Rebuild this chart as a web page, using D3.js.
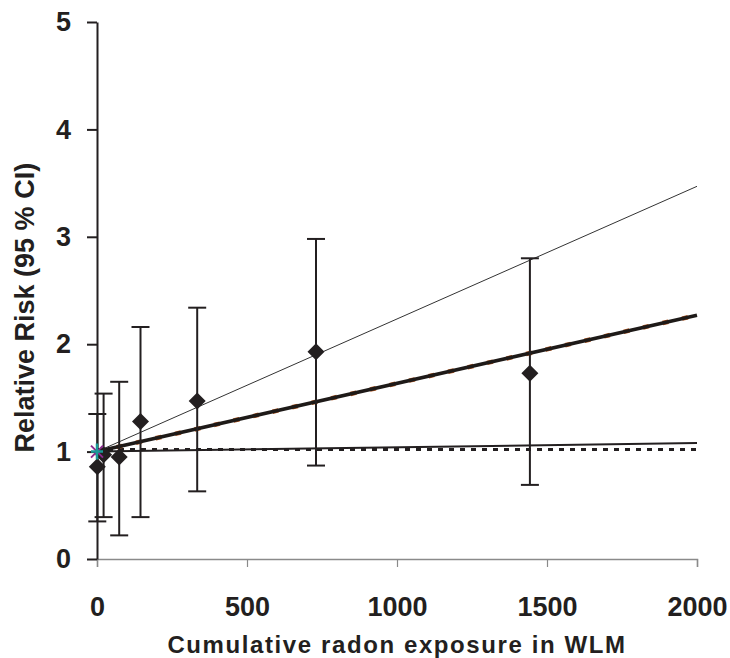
<!DOCTYPE html>
<html>
<head>
<meta charset="utf-8">
<script src="https://cdn.jsdelivr.net/npm/d3@7"></script>
<style>
  body { margin: 0; background: #fff; }
  text { font-family: "Liberation Sans", Arial, sans-serif; font-weight: bold; fill: #231f20; }
</style>
</head>
<body>
<div id="chart-container"></div>
<script>
// grouped exposure categories (WLM) with relative risk and 95% CI
var exposure = [1, 22, 74, 145, 334, 730, 1443]
var rr       = [0.86, 0.97, 0.95, 1.28, 1.47, 1.93, 1.73]
var lower    = [0.35, 0.39, 0.22, 0.39, 0.63, 0.87, 0.69]
var upper    = [1.35, 1.54, 1.65, 2.16, 2.34, 2.98, 2.80]

// reference category
var refExposure = [0]
var refRR = [1]

// fitted lines: RR at 0 and at 2000 WLM
var lineX = [0, 2000]
var thinFit = [1, 3.47]
var thickFit = [1, 2.27]
var flatFit = [1, 1.08]
var baseline = [1.02, 1.02]

var xTicks = [0, 500, 1000, 1500, 2000]
var yTicks = [0, 1, 2, 3, 4, 5]

var margin = {top: 22, right: 33, bottom: 99, left: 97}
var width = 730 - margin.left - margin.right
var height = 658 - margin.top - margin.bottom

var xScale = d3.scaleLinear().domain([0, 2000]).range([0, width])
var yScale = d3.scaleLinear().domain([0, 5]).range([height, 0])

var svg = d3.select('#chart-container')
  .append('svg')
  .attr('width', 730)
  .attr('height', 658)
  .append('g')
  .attr('transform', 'translate(' + margin.left + ', ' + margin.top + ')')

/* x axis (grey) */
var xAxis = svg.append('g')
  .attr('transform', 'translate(0, ' + height + ')')
  .call(d3.axisBottom(xScale).tickValues(xTicks).tickSize(8).tickPadding(30).tickFormat(d3.format('d')))
xAxis.select('.domain').attr('stroke', '#8a8a8a').attr('stroke-width', 1.5)
xAxis.selectAll('.tick line').attr('stroke', '#8a8a8a').attr('stroke-width', 1.2)
xAxis.selectAll('text').style('font-size', '27px').attr('fill', '#231f20')

/* y axis */
var yAxis = svg.append('g')
  .call(d3.axisLeft(yScale).tickValues(yTicks).tickSize(10).tickSizeOuter(0).tickPadding(16).tickFormat(d3.format('d')))
yAxis.select('.domain').attr('stroke', '#231f20').attr('stroke-width', 2)
yAxis.selectAll('.tick line').attr('stroke', '#231f20').attr('stroke-width', 2)
yAxis.selectAll('text').style('font-size', '27px').attr('fill', '#231f20')

/* axis titles */
svg.append('text')
  .attr('x', width / 2)
  .attr('y', height + 94)
  .attr('text-anchor', 'middle')
  .style('font-size', '24px')
  .style('letter-spacing', '1.6px')
  .text('Cumulative radon exposure in WLM')

svg.append('text')
  .attr('transform', 'translate(-63, ' + (yScale(2.34)) + ') rotate(-90)')
  .attr('text-anchor', 'middle')
  .style('font-size', '27px')
  .text('Relative Risk (95 % CI)')

var line = d3.line()
  .x(function(d) { return xScale(d[0]) })
  .y(function(d) { return yScale(d[1]) })

function pairs(ys) { return lineX.map(function(x, i) { return [x, ys[i]] }) }

/* dotted reference line */
svg.append('path')
  .attr('d', line(pairs(baseline)))
  .attr('fill', 'none')
  .attr('stroke', '#231f20')
  .attr('stroke-width', 3)
  .attr('stroke-dasharray', '5,6')

/* fitted lines */
svg.append('path')
  .attr('d', line(pairs(flatFit)))
  .attr('fill', 'none')
  .attr('stroke', '#231f20')
  .attr('stroke-width', 2)

svg.append('path')
  .attr('d', line(pairs(thinFit)))
  .attr('fill', 'none')
  .attr('stroke', '#333')
  .attr('stroke-width', 1)

svg.append('path')
  .attr('d', line(pairs(thickFit)))
  .attr('fill', 'none')
  .attr('stroke', '#b5561e')
  .attr('stroke-width', 4.5)
  .attr('stroke-dasharray', '6,14')
svg.append('path')
  .attr('d', line(pairs(thickFit)))
  .attr('fill', 'none')
  .attr('stroke', '#1e1a18')
  .attr('stroke-width', 3.6)

/* error bars */
var bars = svg.append('g').attr('stroke', '#231f20').attr('stroke-width', 2)
exposure.forEach(function(x, i) {
  var cx = xScale(x)
  bars.append('line').attr('x1', cx).attr('x2', cx).attr('y1', yScale(lower[i])).attr('y2', yScale(upper[i]))
  bars.append('line').attr('x1', cx - 9).attr('x2', cx + 9).attr('y1', yScale(lower[i])).attr('y2', yScale(lower[i]))
  bars.append('line').attr('x1', cx - 9).attr('x2', cx + 9).attr('y1', yScale(upper[i])).attr('y2', yScale(upper[i]))
})

/* diamonds */
svg.append('g').selectAll('path')
  .data(exposure)
  .join('path')
  .attr('transform', function(d, i) { return 'translate(' + xScale(d) + ',' + yScale(rr[i]) + ')' })
  .attr('d', 'M0,-8.5L8.5,0L0,8.5L-8.5,0Z')
  .attr('fill', '#231f20')

/* reference marker: purple asterisk with teal cross */
refExposure.forEach(function(x, i) {
  var g = svg.append('g').attr('transform', 'translate(' + xScale(x) + ',' + yScale(refRR[i]) + ')')
  g.append('path').attr('d', 'M-6,-6L6,6M-6,6L6,-6').attr('stroke', '#8b2c8f').attr('stroke-width', 2)
  g.append('path').attr('d', 'M-6,0L6,0M0,-8L0,8').attr('stroke', '#1a9a98').attr('stroke-width', 2.5)
})
</script>
</body>
</html>
